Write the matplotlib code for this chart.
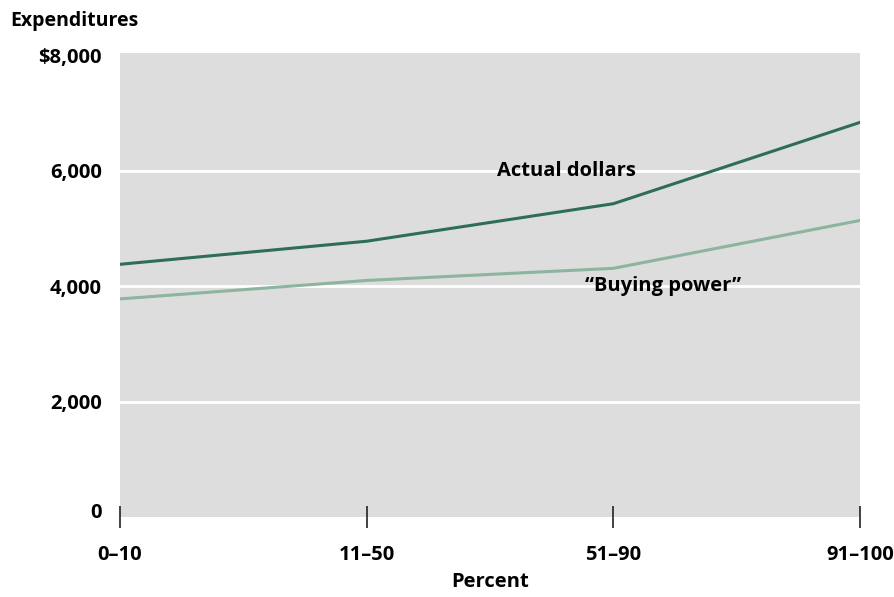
import matplotlib.pyplot as plt
import matplotlib.transforms as mtransforms

# Expenditures by percentile group
groups = ['0–10', '11–50', '51–90', '91–100']
actual_dollars = [4380, 4780, 5430, 6840]
buying_power = [3780, 4100, 4310, 5140]
y_ticks = [0, 2000, 4000, 6000, 8000]
y_labels = ['0', '2,000', '4,000', '6,000', '$8,000']

plt.rcParams['font.family'] = ['Open Sans', 'DejaVu Sans']
fs = 14.5
fw = 'bold'

fig = plt.figure(figsize=(8.94, 5.97), dpi=100)
ax = fig.add_axes([0.1342, 0.134, 0.8278, 0.777])
ax.set_facecolor('#dddddd')

x = range(len(groups))
ax.plot(x, actual_dollars, color='#2e6e58', linewidth=2.2, zorder=3)
ax.plot(x, buying_power, color='#8db49f', linewidth=2.2, zorder=3)

ax.set_xlim(0, 3)
ax.set_ylim(0, 8040)

for v in [2000, 4000, 6000]:
    ax.axhline(v, color='white', linewidth=2, zorder=2)

for s in ax.spines.values():
    s.set_visible(False)

ax.set_xticks(list(x))
ax.set_xticklabels(groups, fontsize=fs, fontweight=fw)
ax.tick_params(axis='x', direction='inout', length=16, width=1.2, color='#222222', pad=12)
ax.set_yticks(y_ticks)
ax.set_yticklabels(y_labels, fontsize=fs, fontweight=fw)
ax.tick_params(axis='y', length=0, pad=13)
# lift the zero label a little off the baseline
zero = ax.get_yticklabels()[0]
zero.set_transform(zero.get_transform() + mtransforms.ScaledTranslation(0, 5 / 72, fig.dpi_scale_trans))

ax.set_xlabel('Percent', fontsize=fs, fontweight=fw, labelpad=5)
fig.text(0.011, 0.965, 'Expenditures', fontsize=14, fontweight=fw, va='center', ha='left')

ax.text(1.53, 6000, 'Actual dollars', fontsize=fs, fontweight=fw, va='center', ha='left')
ax.text(1.885, 4000, '“Buying power”', fontsize=fs, fontweight=fw, va='center', ha='left')

fig.savefig('out.png', dpi=100)
